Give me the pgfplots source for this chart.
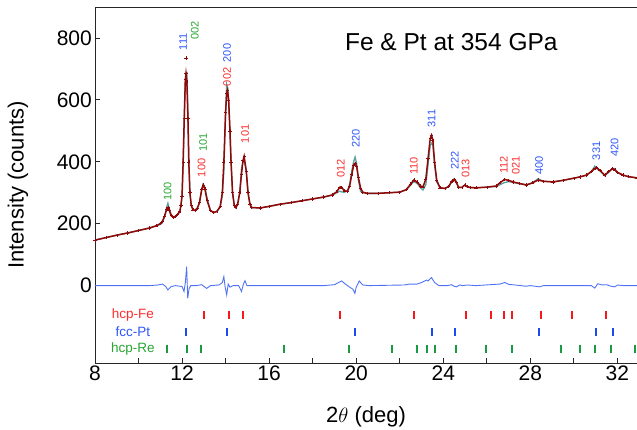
\documentclass[border=0pt]{standalone}
\usepackage{pgfplots}
\usepackage{pgfplotstable}
\pgfplotsset{compat=1.18}
\usepackage{fontspec}
\setmainfont{Liberation Sans}
\definecolor{obsred}{RGB}{145,8,8}
\definecolor{calcteal}{RGB}{90,160,160}
\definecolor{diffblue}{RGB}{80,115,245}
\definecolor{lred}{RGB}{250,45,45}
\definecolor{lblue}{RGB}{45,85,250}
\definecolor{lgreen}{RGB}{40,165,50}
\definecolor{bred}{RGB}{245,25,25}
\definecolor{bblue}{RGB}{25,75,240}
\definecolor{bgreen}{RGB}{25,155,70}

\pgfplotstableread{
x obs calc
8.0 147 147
8.5 155 155
9.0 163 163
9.5 170 170
10.0 178 178
10.5 186 186
10.8 193 192
11.0 200 198
11.1 208 203
11.2 225 225
11.3 248 255
11.35 252 266
11.4 245 252
11.5 226 229
11.6 221 221
11.7 224 224
11.8 230 230
11.9 240 240
11.95 260 262
12.0 290 293
12.05 400 405
12.1 540 535
12.15 665 660
12.18 685 665
12.22 660 690
12.27 540 560
12.31 400 405
12.36 300 302
12.42 260 260
12.5 245 245
12.6 243 243
12.7 250 250
12.8 268 267
12.9 310 308
12.97 325 328
13.05 312 318
13.15 275 282
13.3 243 243
13.45 236 236
13.6 240 239
13.75 255 254
13.85 300 290
13.92 400 371
14.0 560 565
14.05 620 650
14.09 631 640
14.14 600 595
14.2 500 505
14.25 400 400
14.32 300 300
14.4 258 258
14.47 252 252
14.55 262 262
14.65 300 300
14.73 360 379
14.8 405 400
14.85 418 405
14.95 370 370
15.03 300 300
15.12 262 262
15.2 252 252
15.6 251 251
16.0 256 256
16.5 263 263
17.0 268 268
17.5 274 274
18.0 280 280
18.5 286 286
18.9 293 292
19.1 303 300
19.25 318 305
19.33 318 303
19.45 306 301
19.6 305 307
19.7 322 327
19.8 360 372
19.88 388 400
19.95 395 415
20.02 385 395
20.1 350 340
20.2 315 305
20.3 302 300
20.5 298 298
21.0 298 298
21.5 300 300
22.0 302 302
22.3 310 309
22.5 328 325
22.65 341 336
22.8 335 330
22.95 322 316
23.07 319 309
23.2 345 327
23.3 410 390
23.4 475 452
23.46 486 460
23.52 470 455
23.6 400 390
23.7 340 335
23.85 316 316
24.07 314 314
24.25 320 320
24.4 338 336
24.5 343 345
24.6 333 337
24.7 318 317
24.85 317 317
24.99 325 325
25.1 320 318
25.22 317 317
25.5 316 316
26.0 318 318
26.44 322 320
26.6 332 326
26.82 343 333
27.0 340 336
27.21 335 333
27.5 330 329
27.82 325 326
28.1 332 332
28.35 341 345
28.6 337 337
29.04 335 335
29.5 340 340
30.0 347 347
30.27 351 351
30.58 357 357
30.8 368 368
30.96 378 386
31.04 382 378
31.2 372 370
31.42 357 355
31.6 368 366
31.77 378 378
31.88 374 378
32.0 366 364
32.26 357 357
32.5 352 352
32.9 348 348
}\obstable

\pgfplotstableread{
x d
8.0 0
10.5 0
10.9 2
11.1 5
11.25 -3
11.35 -14
11.5 -3
11.7 0
12.0 -3
12.09 -19
12.15 10
12.21 61
12.26 -41
12.32 -10
12.4 0
12.66 0
12.9 3
13.13 -9
13.3 0
13.7 2
13.85 10
13.92 29
13.98 -5
14.05 -30
14.12 5
14.2 -5
14.35 0
14.6 0
14.73 -19
14.82 5
14.89 16
14.98 0
15.5 0
18.5 0
19.0 3
19.33 15
19.5 5
19.7 -5
19.85 -12
19.94 -25
20.0 -5
20.14 15
20.3 2
20.6 0
22.2 2
22.46 5
22.8 5
23.0 10
23.23 18
23.3 15
23.46 26
23.6 10
23.8 0
24.2 0
24.38 3
24.5 -2
24.61 -4
24.75 2
24.9 0
25.1 2
25.5 0
26.6 5
26.83 10
27.0 4
27.3 2
27.8 -2
28.0 0
28.43 -4
28.6 0
30.8 0
30.96 -8
31.1 6
31.3 2
31.5 3
31.7 -2
31.88 -4
32.0 2
32.3 0
32.9 0
}\difftable

% reflection positions: x, top, bottom of each bar, nan rows split bars
\pgfplotstableread{
x y
13.00 -81.5
13.00 -107.5
13.00 nan
14.15 -81.5
14.15 -107.5
14.15 nan
14.81 -81.5
14.81 -107.5
14.81 nan
19.25 -81.5
19.25 -107.5
19.25 nan
22.65 -81.5
22.65 -107.5
22.65 nan
25.03 -81.5
25.03 -107.5
25.03 nan
26.21 -81.5
26.21 -107.5
26.21 nan
26.79 -81.5
26.79 -107.5
26.79 nan
27.18 -81.5
27.18 -107.5
27.18 nan
28.51 -81.5
28.51 -107.5
28.51 nan
29.90 -81.5
29.90 -107.5
29.90 nan
31.46 -81.5
31.46 -107.5
}\fetable

\pgfplotstableread{
x y
12.19 -136
12.19 -162
12.19 nan
14.08 -136
14.08 -162
14.08 nan
19.95 -136
19.95 -162
19.95 nan
23.46 -136
23.46 -162
23.46 nan
24.52 -136
24.52 -162
24.52 nan
28.40 -136
28.40 -162
28.40 nan
31.00 -136
31.00 -162
31.00 nan
31.82 -136
31.82 -162
}\pttable

\pgfplotstableread{
x y
11.32 -191
11.32 -217
11.32 nan
12.21 -191
12.21 -217
12.21 nan
12.87 -191
12.87 -217
12.87 nan
16.69 -191
16.69 -217
16.69 nan
19.66 -191
19.66 -217
19.66 nan
21.64 -191
21.64 -217
21.64 nan
22.78 -191
22.78 -217
22.78 nan
23.24 -191
23.24 -217
23.24 nan
23.62 -191
23.62 -217
23.62 nan
24.57 -191
24.57 -217
24.57 nan
25.95 -191
25.95 -217
25.95 nan
27.15 -191
27.15 -217
27.15 nan
29.42 -191
29.42 -217
29.42 nan
30.30 -191
30.30 -217
30.30 nan
30.95 -191
30.95 -217
30.95 nan
31.69 -191
31.69 -217
31.69 nan
32.80 -191
32.80 -217
}\retable

\begin{document}
\begin{tikzpicture}
\begin{axis}[
  scale only axis, width=542pt, height=356pt,
  xmin=8, xmax=32.9, ymin=-250, ymax=900,
  axis x line*=bottom, axis y line*=left,
  axis line style={-, line width=0.9pt, black!85},
  clip mode=individual,
  unbounded coords=jump,
  xtick={8,12,...,32}, minor xtick={10,14,...,30},
  ytick={0,200,400,600,800},
  tick align=inside,
  major tick length=5pt, minor tick length=5pt,
  every tick/.style={black!85, line width=0.8pt},
  /pgf/number format/assume math mode=true,
  ticklabel style={font=\fontsize{21}{24}\selectfont},
  xticklabel style={anchor=north, inner sep=0pt, yshift=-3pt},
  yticklabel style={anchor=east, inner sep=0pt, xshift=-3pt},
  xlabel={2$\theta$ (deg)},
  ylabel={Intensity (counts)},
  label style={font=\fontsize{22}{26}\selectfont},
  xlabel style={at={(axis description cs:0.5,-0.152)}, anchor=center},
  ylabel style={at={(axis description cs:-0.142,0.5)}, anchor=center, rotate=0},
]
\coordinate (ll) at (rel axis cs:0,0);
\coordinate (ur) at (rel axis cs:1,1);
\draw[line width=0.9pt, black!85] (rel axis cs:0,1) -- (rel axis cs:1,1);

\addplot[calcteal, line width=1.3pt] table[x=x, y=calc] {\obstable};
\addplot[obsred, line width=1.5pt, mark=+, mark size=1.6pt, mark options={line width=0.5pt}] table[x=x, y=obs] {\obstable};
\addplot[only marks, obsred, mark=+, mark size=1.6pt, mark options={line width=0.5pt}] coordinates {(12.18,735)};
\addplot[diffblue, line width=0.9pt] table[x=x, y=d] {\difftable};

% phase reflection markers
\addplot[bred, line width=2pt, mark=none] table[x=x, y=y] {\fetable};
\addplot[bblue, line width=2pt, mark=none] table[x=x, y=y] {\pttable};
\addplot[bgreen, line width=2pt, mark=none] table[x=x, y=y] {\retable};

\node[font=\fontsize{13.5}{15}\selectfont, text=lred, anchor=center] at (axis cs:9.745,-94.5) {hcp-Fe};
\node[font=\fontsize{13.5}{15}\selectfont, text=lblue, anchor=center] at (axis cs:9.745,-149) {fcc-Pt};
\node[font=\fontsize{13.5}{15}\selectfont, text=lgreen, anchor=center] at (axis cs:9.745,-204) {hcp-Re};

\node[font=\fontsize{24.5}{28}\selectfont, anchor=base west, inner sep=0pt] at (axis cs:19.48,760) {Fe \& Pt at 354 GPa};

\tikzset{pl/.style={rotate=90, anchor=west, inner sep=0pt, font=\fontsize{11}{12}\selectfont}}
\node[pl, text=lblue] at (axis cs:12.05,760) {111};
\node[pl, text=lgreen] at (axis cs:12.59,795) {002};
\node[pl, text=lblue] at (axis cs:14.07,721) {200};
\node[pl, text=lred] at (axis cs:14.07,644) {002};
\node[pl, text=lgreen] at (axis cs:12.97,431) {101};
\node[pl, text=lred] at (axis cs:12.90,350) {100};
\node[pl, text=lred] at (axis cs:14.89,460) {101};
\node[pl, text=lred] at (axis cs:19.29,349) {012};
\node[pl, text=lgreen] at (axis cs:11.33,273) {100};
\node[pl, text=lblue] at (axis cs:19.98,444) {220};
\node[pl, text=lred] at (axis cs:22.65,357) {110};
\node[pl, text=lblue] at (axis cs:23.46,511) {311};
\node[pl, text=lblue] at (axis cs:24.53,373) {222};
\node[pl, text=lred] at (axis cs:25.02,347) {013};
\node[pl, text=lred] at (axis cs:26.78,360) {112};
\node[pl, text=lred] at (axis cs:27.33,357) {021};
\node[pl, text=lblue] at (axis cs:28.40,357) {400};
\node[pl, text=lblue] at (axis cs:31.03,405) {331};
\node[pl, text=lblue] at (axis cs:31.87,415) {420};
\end{axis}
\pgfresetboundingbox
\path (ll) ++(-95pt,-66pt) -- (ur) ++(0,7pt);
\end{tikzpicture}
\end{document}
